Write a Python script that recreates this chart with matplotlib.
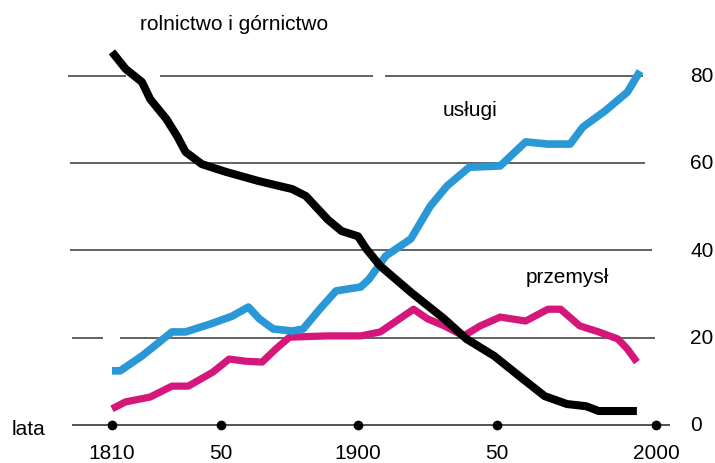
#!/usr/bin/env python3
"""Employment share by sector (rolnictwo, przemysł, usługi), 1810-2000."""

import numpy as np
import matplotlib
matplotlib.use("Agg")
import matplotlib.pyplot as plt

# ---- data ----
agri_years = [1810, 1815, 1821, 1824, 1830, 1834, 1837, 1843, 1852, 1864, 1876, 1881,
              1889, 1894, 1900, 1903, 1908, 1919, 1931, 1939, 1949, 1957, 1965, 1972,
              1978, 1982, 1994]
agri_share = [85.4, 81.5, 78.5, 74.6, 70.0, 66.0, 62.5, 59.7, 57.9, 55.8, 54.0, 52.4,
              47.0, 44.4, 43.2, 40.3, 36.4, 30.4, 24.3, 19.7, 15.8, 11.2, 6.6, 4.8,
              4.3, 3.2, 3.2]

serv_years = [1810, 1813, 1821, 1832, 1837, 1846, 1854, 1860, 1864, 1869, 1876, 1880,
              1886, 1892, 1901, 1904, 1910, 1919, 1926, 1932, 1940, 1951, 1959, 1966,
              1973, 1977, 1984, 1991, 1995]
serv_share = [12.4, 12.4, 15.8, 21.3, 21.3, 23.1, 24.9, 27.0, 24.3, 22.0, 21.5, 22.0,
              26.5, 30.7, 31.6, 33.4, 38.7, 42.6, 50.1, 54.7, 59.0, 59.3, 64.8, 64.3,
              64.3, 68.2, 71.9, 76.2, 81.0]

ind_years = [1810, 1815, 1824, 1832, 1838, 1847, 1853, 1859, 1865, 1870, 1875, 1889,
             1901, 1908, 1920, 1925, 1931, 1938, 1944, 1951, 1959, 1966, 1970, 1976,
             1982, 1988, 1991, 1994]
ind_share = [3.7, 5.3, 6.4, 8.9, 8.9, 12.1, 15.1, 14.6, 14.4, 17.4, 20.1, 20.4,
             20.4, 21.3, 26.5, 24.3, 22.7, 20.4, 22.7, 24.7, 23.8, 26.5, 26.5, 22.7,
             21.3, 19.7, 17.4, 14.4]

tick_years = [1810, 1850, 1900, 1950, 2000]
tick_labels = ["1810", "50", "1900", "50", "2000"]
value_ticks = [0, 20, 40, 60, 80]

# ---- uneven year axis of the original drawing (piecewise linear scale) ----
knot_years = np.array([1700, 1810, 1850, 1900, 1950, 2000, 2100], dtype=float)
knot_pos = np.array([112 - 110 * 2.725, 112, 221, 358, 497, 656, 656 + 100 * 3.18])


def fwd(y):
    return np.interp(y, knot_years, knot_pos)


def inv(p):
    return np.interp(p, knot_pos, knot_years)


W, H = 715, 464
fig = plt.figure(figsize=(W / 100, H / 100), dpi=100)
ax = fig.add_axes([0, 0, 1, 1])
ax.set_xscale("function", functions=(fwd, inv))
ax.set_xlim(inv(0), inv(W))
px_per_unit = (426 - 76.5) / 80
ax.set_ylim(-(H - 426) / px_per_unit, 80 + 76.5 / px_per_unit)
ax.axis("off")

plt.rcParams["font.family"] = ["Liberation Sans", "DejaVu Sans"]
fs = 15

# gridlines (with the gaps of the original)
grid_segments = {
    80: [(1794, 1815), (1827.6, 1905.4), (1909.7, 1996)],
    60: [(1794.6, 1996.5)],
    40: [(1794.6, 1998.7)],
    20: [(1795.3, 1806.7), (1813, 1999.7)],
}
for val, segs in grid_segments.items():
    for a, b in segs:
        ax.hlines(val, a, b, color="#555555", lw=1.3, zorder=1)

# base axis with dots
ax.hlines(0, 1795.3, 2004.4, color="#444444", lw=1.3, zorder=1)
ax.plot(tick_years, [0] * len(tick_years), "o", color="black", ms=6, zorder=5)

# series
ax.plot(ind_years, ind_share, color="#d5177b", lw=5.2, solid_joinstyle="round",
        solid_capstyle="butt", zorder=3)
ax.plot(serv_years, serv_share, color="#2a98d6", lw=5.5, solid_joinstyle="round",
        solid_capstyle="butt", zorder=3)
ax.plot(agri_years, agri_share, color="black", lw=5.8, solid_joinstyle="round",
        solid_capstyle="butt", zorder=4)

# labels
ax.text(1820.3, 90.6, "rolnictwo i górnictwo", fontsize=fs, va="baseline", ha="left")
ax.text(1930.6, 70.9, "usługi", fontsize=fs, va="baseline", ha="left")
ax.text(1959.1, 32.7, "przemysł", fontsize=fs, va="baseline", ha="left")
ax.text(inv(12), -2.1, "lata", fontsize=fs, va="baseline", ha="left")

for v in value_ticks:
    ax.text(2010.7, v, str(v), fontsize=fs, va="center", ha="left")
for yr, lab in zip(tick_years, tick_labels):
    ax.text(yr, -7.6, lab, fontsize=fs, va="baseline", ha="center")

fig.savefig("out.png", dpi=100)
